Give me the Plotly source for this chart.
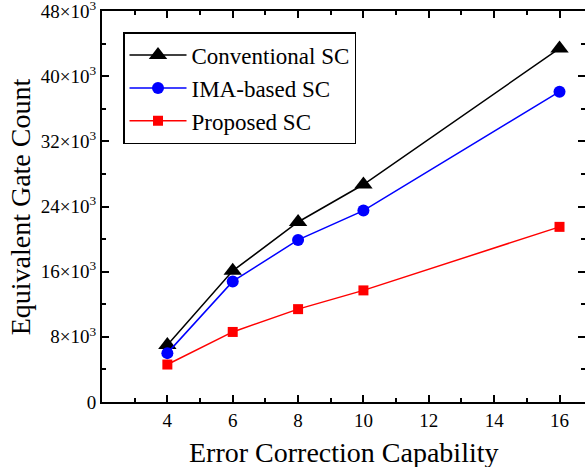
import plotly.graph_objects as go

x_vals = [4, 6, 8, 10, 16]
conventional = [7000, 16100, 22100, 26700, 43400]
ima_based = [6000, 14800, 19900, 23500, 38100]
proposed = [4600, 8600, 11400, 13700, 21500]

y_tickvals = [0, 8000, 16000, 24000, 32000, 40000, 48000]
y_ticktext = ["0", "8×10<sup>3</sup>", "16×10<sup>3</sup>", "24×10<sup>3</sup>",
              "32×10<sup>3</sup>", "40×10<sup>3</sup>", "48×10<sup>3</sup>"]
x_tickvals = [4, 6, 8, 10, 12, 14, 16]

FONT = "Liberation Serif"

fig = go.Figure()
fig.add_trace(go.Scatter(x=x_vals, y=conventional, name="Conventional SC", mode="lines+markers",
                         line=dict(color="black", width=1.5),
                         marker=dict(symbol="triangle-up", size=16, color="black")))
fig.add_trace(go.Scatter(x=x_vals, y=ima_based, name="IMA-based SC", mode="lines+markers",
                         line=dict(color="blue", width=1.5),
                         marker=dict(symbol="circle", size=12, color="blue")))
fig.add_trace(go.Scatter(x=x_vals, y=proposed, name="Proposed SC", mode="lines+markers",
                         line=dict(color="red", width=1.5),
                         marker=dict(symbol="square", size=10, color="red")))

axis_common = dict(showline=True, linecolor="black", linewidth=2, mirror="ticks",
                   ticks="inside", ticklen=7, tickwidth=1.5, tickcolor="black",
                   showgrid=False, zeroline=False, automargin=False,
                   ticklabeloverflow="allow",
                   tickfont=dict(family=FONT, size=19, color="black"))

fig.update_xaxes(range=[2, 16.78], tickvals=x_tickvals,
                 minor=dict(ticks="inside", ticklen=4, tickwidth=1.5, dtick=1, tick0=0, tickcolor="black"),
                 **axis_common)
fig.update_yaxes(range=[0, 48000.01], tickvals=y_tickvals, ticktext=y_ticktext,
                 minor=dict(ticks="inside", ticklen=4, tickwidth=1.5, dtick=4000, tick0=0, tickcolor="black"),
                 **axis_common)

fig.add_annotation(text="Error Correction Capability", xref="paper", yref="paper",
                   x=0.5, y=-0.128, xanchor="center", yanchor="middle", showarrow=False,
                   font=dict(family=FONT, size=28, color="black"))
fig.add_annotation(text="Equivalent Gate Count", xref="paper", yref="paper",
                   x=-0.168, y=0.5, xanchor="center", yanchor="middle", showarrow=False,
                   textangle=-90, font=dict(family=FONT, size=28, color="black"))

fig.update_layout(
    width=585, height=467,
    margin=dict(l=102, r=0, t=11, b=65),
    paper_bgcolor="white", plot_bgcolor="white",
    showlegend=True,
    legend=dict(x=0.0435, y=0.946, xanchor="left", yanchor="top",
                bordercolor="black", borderwidth=1.5, bgcolor="white",
                font=dict(family=FONT, size=23, color="black"),
                tracegroupgap=0, itemwidth=57),
)

fig.write_html("out.html", config={"displayModeBar": False})

with open("out.html", "r", encoding="utf-8") as f:
    html = f.read()
html = html.replace("<head>", "<head><style>html,body{margin:0;padding:0;overflow:hidden;}</style>", 1)
with open("out.html", "w", encoding="utf-8") as f:
    f.write(html)
